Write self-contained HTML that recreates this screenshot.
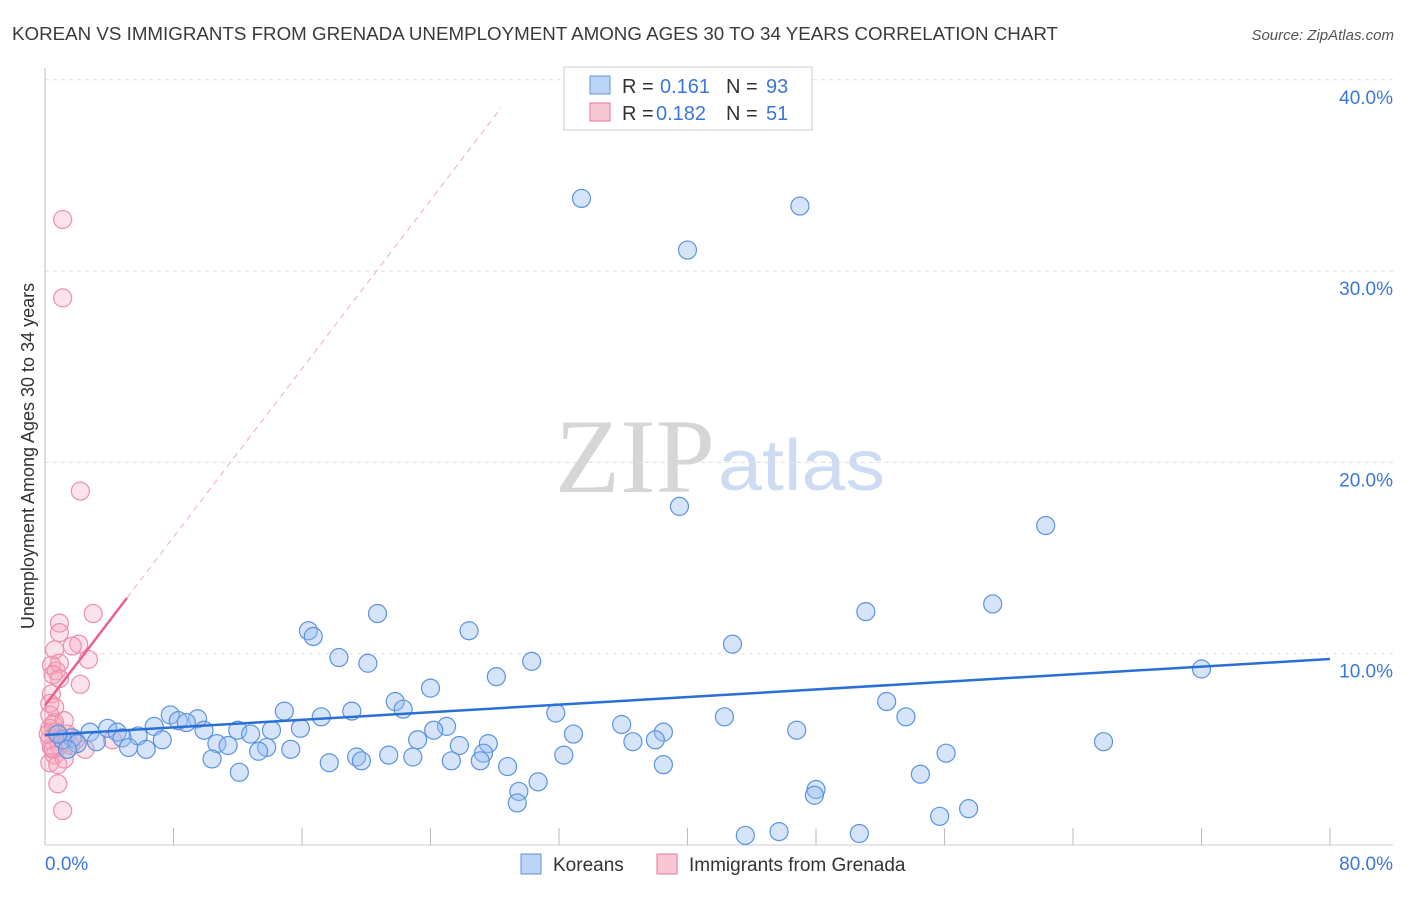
<!DOCTYPE html>
<html><head><meta charset="utf-8"><style>
body{margin:0;background:#fff;font-family:"Liberation Sans",sans-serif;}
</style></head><body>
<svg id="chart" width="1406" height="892" font-family="Liberation Sans, sans-serif">
<text x="12" y="40" font-size="18" fill="#3a3a3a" textLength="1046" lengthAdjust="spacingAndGlyphs">KOREAN VS IMMIGRANTS FROM GRENADA UNEMPLOYMENT AMONG AGES 30 TO 34 YEARS CORRELATION CHART</text>
<text x="1394" y="40" font-size="15" fill="#555" text-anchor="end" font-style="italic">Source: ZipAtlas.com</text>
<text x="715" y="492" font-size="106" fill="#d6d6d6" text-anchor="end" style="font-family:'Liberation Serif',serif" textLength="160" lengthAdjust="spacingAndGlyphs">ZIP</text>
<text x="718" y="490" font-size="72" fill="#cddcf3" textLength="167" lengthAdjust="spacingAndGlyphs">atlas</text>
<g id="grid"></g>
<g id="axes"></g>
<g id="pts"></g>
<g id="trend"></g>
<text transform="translate(34,456) rotate(-90)" font-size="18" fill="#333" text-anchor="middle">Unemployment Among Ages 30 to 34 years</text>
<g>
<rect x="564" y="67" width="248" height="63" fill="#fff" stroke="#ccc"/>
<rect x="590" y="76" width="20" height="18" fill="#bcd4f5" stroke="#5b93e0"/>
<text x="622" y="93" font-size="20" fill="#333">R = </text><text x="660" y="93" font-size="20" fill="#3a78d8">0.161</text>
<text x="726" y="93" font-size="20" fill="#333">N = </text><text x="766" y="93" font-size="20" fill="#3a78d8">93</text>
<rect x="590" y="103" width="20" height="18" fill="#f8c6d4" stroke="#e77a9b"/>
<text x="622" y="120" font-size="20" fill="#333">R = </text><text x="656" y="120" font-size="20" fill="#3a78d8">0.182</text>
<text x="726" y="120" font-size="20" fill="#333">N = </text><text x="766" y="120" font-size="20" fill="#3a78d8">51</text>
</g>
<g>
<rect x="521" y="854" width="20" height="20" fill="#bcd4f5" stroke="#5b93e0"/>
<text x="553" y="871" font-size="19" fill="#333">Koreans</text>
<rect x="657" y="854" width="20" height="20" fill="#f8c6d4" stroke="#e77a9b"/>
<text x="689" y="871" font-size="19" fill="#333">Immigrants from Grenada</text>
</g>
</svg>
<script>
const yTicks=[10,20,30,40];
const xTickLabels=["0.0%","80.0%"];
const koreansX=[33.4,47.0,40.0,39.5,62.3,59.0,51.1,20.7,16.4,26.4,16.7,42.8,18.3,30.3,20.1,72.0,28.1,24.0,21.8,52.4,22.3,14.9,19.1,31.8,7.8,17.2,42.3,53.6,8.3,9.5,8.8,25.0,6.8,35.9,24.2,12.0,9.9,15.9,14.1,12.8,3.9,2.8,4.5,32.9,38.5,46.8,5.8,1.7,1.1,4.8,7.3,23.2,27.6,65.9,36.6,38.0,3.2,10.7,11.4,25.8,13.8,5.2,6.3,15.3,13.3,27.3,56.1,21.4,32.3,22.9,19.4,10.4,19.7,25.3,27.1,17.7,38.5,28.8,12.1,54.5,30.7,29.5,48.0,47.9,29.4,57.5,55.7,43.6,45.7,50.7,2.0,0.8,1.4];
const koreansY=[33.8,33.4,31.1,17.7,16.7,12.6,12.2,12.1,11.2,11.2,10.9,10.5,9.8,9.6,9.5,9.2,8.8,8.2,7.5,7.5,7.1,7.0,7.0,6.9,6.8,6.7,6.7,6.7,6.5,6.6,6.4,6.2,6.2,6.3,6.0,6.0,6.0,6.1,6.0,5.8,6.1,5.9,5.9,5.8,5.9,6.0,5.7,5.6,5.5,5.6,5.5,5.5,5.3,5.4,5.4,5.5,5.4,5.3,5.2,5.2,5.1,5.1,5.0,5.0,4.9,4.8,4.8,4.7,4.7,4.6,4.6,4.5,4.4,4.4,4.4,4.3,4.2,4.1,3.8,3.7,3.3,2.8,2.9,2.6,2.2,1.9,1.5,0.5,0.7,0.6,5.3,5.8,5.0];
const grenadaX=[1.1,1.1,2.2,3.0,0.9,0.9,2.1,1.7,0.6,2.7,0.9,0.4,0.7,0.5,0.9,2.2,0.4,0.3,0.6,0.3,1.2,0.6,0.3,0.7,0.3,0.9,0.4,1.6,4.2,2.5,0.6,1.2,0.3,0.8,0.8,1.1,0.2,0.5,1.4,1.9,0.5];
const grenadaY=[32.7,28.6,18.5,12.1,11.6,11.1,10.5,10.4,10.2,9.7,9.5,9.4,9.1,8.9,8.7,8.4,7.9,7.4,7.2,6.8,6.5,6.4,6.1,5.9,5.5,5.2,5.1,5.2,5.5,5.0,4.7,4.5,4.3,4.2,3.2,1.8,5.8,5.0,5.8,5.5,6.3];
const koreansTrend=[5.75,9.72];      // y at x=0 and x=80
const grenadaTrend=[7.3,1.1];        // intercept, slope
const NS="http://www.w3.org/2000/svg";
const sx=v=>45+v/80*1285, sy=v=>845-v*19.13;
function mk(t,a,p){const e=document.createElementNS(NS,t);for(const k in a)e.setAttribute(k,a[k]);p.appendChild(e);return e;}
const grid=document.getElementById('grid'),axes=document.getElementById('axes'),pts=document.getElementById('pts'),tr=document.getElementById('trend');
yTicks.forEach(v=>{
 const l=mk('line',{x1:45,x2:1393,y1:sy(v),y2:sy(v),stroke:'#ddd','stroke-dasharray':'4,4'},grid);
 
 
 const t=mk('text',{x:1393,y:sy(v)+24,'font-size':19,fill:'#3a78d8','text-anchor':'end'},grid);t.textContent=v.toFixed(1)+'%';
 
 
});
mk('line',{x1:45,x2:45,y1:68,y2:845,stroke:'#bbb'},axes);
mk('line',{x1:45,x2:1393,y1:845,y2:845,stroke:'#ccc'},axes);
for(let i=1;i<=10;i++){const x=sx(i*8);mk('line',{x1:x,x2:x,y1:828,y2:845,stroke:'#bbb'},axes);}
let t0=mk('text',{x:45,y:870,'font-size':19,fill:'#3a78d8'},axes);t0.textContent=xTickLabels[0];


let t1=mk('text',{x:1393,y:870,'font-size':19,fill:'#3a78d8','text-anchor':'end'},axes);t1.textContent=xTickLabels[1];


grenadaX.forEach((x,i)=>{const c=mk('circle',{cx:sx(x),cy:sy(grenadaY[i]),r:9,fill:'rgba(244,160,186,0.3)',stroke:'#ec8fab','stroke-width':1.2},pts);
 
 });
koreansX.forEach((x,i)=>{const c=mk('circle',{cx:sx(x),cy:sy(koreansY[i]),r:9,fill:'rgba(150,188,240,0.4)',stroke:'#5b93e0','stroke-width':1.2},pts);
 
 });
const bl=mk('line',{x1:sx(0),y1:sy(koreansTrend[0]),x2:sx(80),y2:sy(koreansTrend[1]),stroke:'#2a6fd6','stroke-width':2.5},tr);


const gy=x=>grenadaTrend[0]+grenadaTrend[1]*x;
const pd=mk('line',{x1:sx(5.1),y1:sy(gy(5.1)),x2:sx(28.4),y2:sy(gy(28.4)),stroke:'#f0b3c5','stroke-width':1.1,'stroke-dasharray':'6,5'},tr);


const pl=mk('line',{x1:sx(0),y1:sy(gy(0)),x2:sx(5.1),y2:sy(gy(5.1)),stroke:'#e8628c','stroke-width':2.5},tr);


</script>
</body></html>
